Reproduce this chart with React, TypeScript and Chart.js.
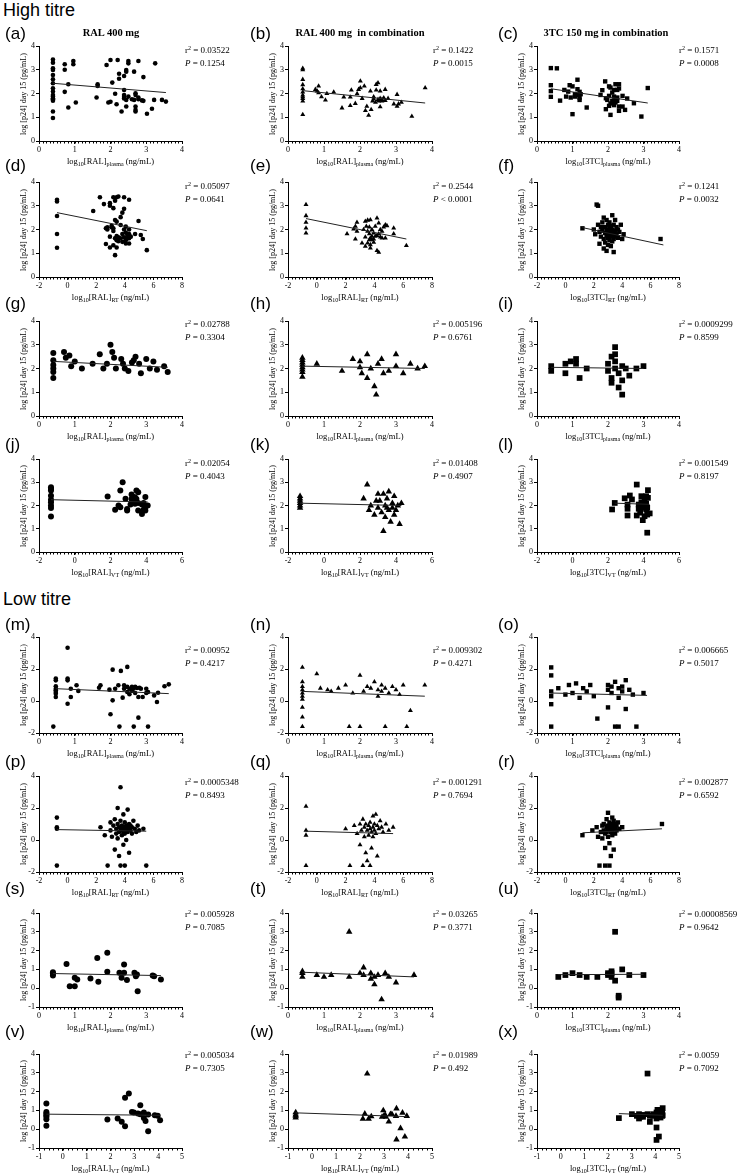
import React, { useEffect, useRef } from "react";
import { Chart, registerables } from "chart.js";
Chart.register(...registerables);

type P = [number, number];

// ---------- DATA ----------
const ptsA: P[] = [[0.39,3.43],[0.39,3.3],[0.39,3.06],[0.39,2.99],[0.39,2.78],[0.39,2.6],[0.39,2.43],[0.39,2.22],[0.39,2.08],[0.39,1.94],[0.39,1.87],[0.39,1.8],[0.39,1.76],[0.39,1.7],[0.39,1.24],[0.39,0.97],
[0.72,3.23],[0.72,3.0],[0.72,2.07],[0.82,2.39],[0.82,1.41],[0.96,3.37],[0.96,3.23],[1.03,1.62],[1.61,1.83],[1.64,2.39],[1.64,2.32],[1.89,3.2],[1.94,1.62],[2.0,3.41],[2.0,1.65],[2.05,2.46],[2.13,1.99],[2.17,1.55],[2.2,3.41],[2.24,2.83],[2.24,2.62],[2.31,1.24],[2.38,2.74],[2.38,2.15],[2.38,1.94],[2.38,1.85],[2.38,1.79],[2.44,2.92],[2.44,2.99],[2.44,1.73],[2.44,1.45],[2.5,3.37],[2.5,3.27],[2.5,1.87],[2.6,1.76],[2.66,2.92],[2.66,1.73],[2.7,2.01],[2.7,1.94],[2.7,1.45],[2.7,1.31],[2.7,1.24],[2.78,3.37],[2.78,1.83],[2.78,1.76],[2.88,1.71],[2.92,2.69],[2.92,1.69],[3.02,1.15],[3.16,1.36],[3.22,1.73],[3.25,3.27],[3.44,1.73],[3.55,1.66]];
const fitA: P[] = [[0.39,2.43],[3.55,2.04]];

const ptsB: P[] = [[0.41,3.06],[0.41,3.0],[0.41,2.59],[0.41,2.37],[0.41,2.2],[0.41,2.06],[0.41,1.93],[0.41,1.86],[0.41,1.79],[0.41,1.68],[0.41,1.11],
[0.76,2.17],[0.81,2.1],[0.85,2.31],[0.85,2.03],[0.93,1.86],[1.04,1.72],[1.08,2.0],[1.27,2.06],[1.5,1.39],[1.55,1.85],[1.73,1.85],[1.73,1.49],[1.76,2.14],[1.87,1.58],[1.92,1.99],[1.96,2.17],[2.01,2.52],[2.01,2.24],[2.06,1.79],[2.12,2.31],[2.15,1.28],[2.19,1.46],[2.24,1.08],[2.29,2.1],[2.31,1.32],[2.35,1.68],[2.38,1.86],[2.38,1.77],[2.43,1.63],[2.45,2.38],[2.45,2.14],[2.5,2.45],[2.5,1.75],[2.52,1.68],[2.56,2.1],[2.56,1.79],[2.56,1.44],[2.61,1.75],[2.61,1.68],[2.66,1.82],[2.7,2.17],[2.7,1.7],[2.78,1.79],[2.94,1.56],[3.03,1.96],[3.03,1.46],[3.07,1.56],[3.15,1.63],[3.44,1.04],[3.81,2.24]];
const fitB: P[] = [[0.41,2.12],[3.81,1.6]];

const ptsC: P[] = [[0.39,3.07],[0.39,2.35],[0.39,2.1],[0.39,1.86],[0.56,3.06],[0.65,1.7],[0.77,2.15],[0.82,1.87],[0.88,2.08],[0.92,2.35],[0.95,1.83],[1.0,1.13],[1.0,2.3],[1.07,1.97],[1.07,1.87],[1.14,2.18],[1.14,2.58],[1.14,1.93],[1.2,1.73],[1.2,1.83],[1.2,2.07],[1.23,1.97],[1.4,1.41],[1.79,1.94],[1.84,2.14],[1.92,2.51],[1.94,1.8],[1.94,1.34],[1.98,1.73],[2.03,2.3],[2.03,1.9],[2.03,1.48],[2.07,2.25],[2.07,1.1],[2.07,1.58],[2.12,2.04],[2.12,1.69],[2.17,2.15],[2.17,1.87],[2.17,1.51],[2.21,2.39],[2.21,1.76],[2.21,1.62],[2.26,2.15],[2.26,1.83],[2.26,1.69],[2.31,2.21],[2.31,2.39],[2.31,1.27],[2.31,1.45],[2.41,1.9],[2.41,1.45],[2.48,1.31],[2.54,1.79],[2.73,1.59],[2.94,1.03],[3.12,2.23]];
const fitC: P[] = [[0.39,2.2],[3.12,1.6]];

const ptsD: P[] = [[-0.74,3.25],[-0.74,3.18],[-0.74,2.57],[-0.74,1.81],[-0.74,1.23],[1.79,2.78],[2.26,3.36],[2.54,3.07],[2.68,2.05],[2.68,1.39],[2.78,2.0],[2.78,2.09],[2.96,3.11],[2.96,3.0],[2.96,1.7],[2.96,1.24],[3.08,2.16],[3.08,2.09],[3.2,3.36],[3.2,2.9],[3.2,2.05],[3.2,1.94],[3.2,1.34],[3.32,3.21],[3.32,2.4],[3.32,0.92],[3.32,1.63],[3.43,3.36],[3.43,2.33],[3.43,1.72],[3.43,1.55],[3.43,1.24],[3.55,3.39],[3.55,1.67],[3.55,1.51],[3.71,2.52],[3.71,1.63],[3.71,2.19],[3.83,2.71],[3.83,1.81],[3.83,1.48],[3.95,3.36],[3.95,2.87],[3.95,2.0],[3.95,1.67],[4.07,2.12],[4.07,1.87],[4.07,1.55],[4.07,1.41],[4.18,1.77],[4.18,1.63],[4.3,3.25],[4.3,2.0],[4.3,1.81],[4.3,1.63],[4.3,1.41],[4.42,1.7],[4.72,1.81],[4.96,2.36],[5.12,1.77],[5.26,1.6],[5.54,1.13]];
const fitD: P[] = [[-0.74,2.71],[5.54,1.95]];

const ptsE: P[] = [[-0.75,3.05],[-0.75,2.58],[-0.75,2.3],[-0.75,2.06],[-0.75,1.85],[2.1,1.82],[2.56,2.02],[2.68,2.13],[2.68,1.6],[2.79,2.3],[2.79,1.92],[3.14,1.43],[3.25,2.0],[3.37,2.34],[3.37,1.68],[3.37,1.29],[3.44,2.13],[3.53,2.39],[3.53,1.92],[3.53,1.43],[3.65,2.1],[3.65,1.82],[3.65,1.57],[3.72,2.41],[3.72,1.64],[3.72,1.36],[3.72,1.22],[3.83,2.0],[3.83,1.71],[3.83,1.57],[3.95,1.85],[3.95,1.6],[3.95,1.46],[4.06,2.13],[4.06,1.71],[4.18,2.48],[4.18,1.75],[4.18,1.11],[4.3,2.27],[4.3,1.82],[4.3,1.04],[4.41,2.0],[4.41,1.68],[4.53,1.64],[4.53,1.92],[4.64,2.1],[4.76,2.2],[4.76,1.64],[4.87,2.16],[5.34,2.06],[5.34,1.82],[6.22,1.32]];
const fitE: P[] = [[-0.75,2.46],[6.22,1.6]];

const ptsF: P[] = [[1.2,2.05],[2.0,2.0],[2.1,1.8],[2.2,3.05],[2.3,3.0],[2.3,2.2],[2.4,1.9],[2.4,1.4],[2.5,2.1],[2.5,1.7],[2.6,2.3],[2.6,1.95],[2.7,2.5],[2.7,1.6],[2.7,1.2],[2.8,2.1],[2.8,1.85],[2.8,1.45],[2.9,2.4],[2.9,2.0],[2.9,1.75],[2.9,1.1],[3.0,2.2],[3.0,1.9],[3.0,1.65],[3.0,1.35],[3.1,2.3],[3.1,2.05],[3.1,1.8],[3.1,1.55],[3.2,2.15],[3.2,1.9],[3.2,1.7],[3.2,1.3],[3.3,2.6],[3.3,2.0],[3.3,1.75],[3.3,1.5],[3.4,2.2],[3.4,1.85],[3.4,1.6],[3.4,1.05],[3.5,2.4],[3.5,1.95],[3.5,1.7],[3.6,2.1],[3.6,1.8],[3.7,2.0],[3.7,1.65],[3.8,1.9],[3.9,2.2],[4.0,1.6],[4.1,1.8],[6.7,1.6]];
const fitF: P[] = [[1.2,2.08],[6.9,1.35]];

const ptsG: P[] = [[0.4,2.65],[0.4,2.35],[0.4,2.15],[0.4,2.0],[0.4,1.85],[0.4,1.6],[0.7,2.7],[0.75,2.45],[0.85,2.55],[0.9,2.1],[1.0,2.3],[1.2,2.0],[1.5,2.2],[1.7,2.6],[1.8,2.0],[1.9,2.2],[2.0,3.0],[2.05,2.7],[2.1,2.45],[2.15,2.0],[2.3,2.4],[2.35,2.2],[2.4,2.0],[2.5,1.9],[2.6,2.25],[2.65,2.35],[2.7,2.5],[2.8,2.2],[2.85,1.8],[3.0,2.4],[3.1,2.0],[3.2,2.3],[3.3,1.95],[3.5,2.1],[3.6,1.85]];
const fitG: P[] = [[0.4,2.3],[3.6,2.05]];

const ptsH: P[] = [[0.4,2.45],[0.4,2.35],[0.4,2.25],[0.4,2.15],[0.4,2.05],[0.4,1.95],[0.4,1.85],[0.4,1.65],[0.8,2.2],[1.5,1.9],[1.8,2.4],[2.0,2.3],[2.0,2.05],[2.05,1.8],[2.2,2.6],[2.2,1.6],[2.3,2.0],[2.4,1.25],[2.45,0.9],[2.5,2.2],[2.6,2.4],[2.65,1.8],[2.8,1.9],[3.0,2.1],[3.0,2.6],[3.2,1.8],[3.4,2.2],[3.6,2.0],[3.8,2.1]];
const fitH: P[] = [[0.4,2.1],[3.8,2.0]];

const ptsI: P[] = [[0.4,2.1],[0.4,1.9],[0.8,2.2],[0.8,1.8],[0.95,2.3],[1.1,2.2],[1.1,2.4],[1.2,1.6],[1.4,2.0],[2.0,2.2],[2.0,1.9],[2.1,2.5],[2.1,1.6],[2.1,1.4],[2.2,2.9],[2.2,2.6],[2.2,2.3],[2.2,2.0],[2.3,1.8],[2.3,1.2],[2.4,2.1],[2.4,0.9],[2.4,1.5],[2.5,2.0],[2.6,1.7],[2.8,2.0],[3.0,2.1]];
const fitI: P[] = [[0.4,2.05],[3.0,2.0]];

const ptsJ: P[] = [[-1.33,2.78],[-1.33,2.71],[-1.33,2.64],[-1.33,2.42],[-1.33,2.25],[-1.33,2.14],[-1.33,2.0],[-1.33,1.89],[-1.33,1.53],[1.84,2.39],[2.26,1.82],[2.45,2.0],[2.55,2.65],[2.55,1.92],[2.68,3.0],[2.84,2.29],[2.93,1.85],[2.93,1.78],[3.12,2.04],[3.18,2.47],[3.18,2.28],[3.28,2.18],[3.28,2.37],[3.37,2.35],[3.37,2.08],[3.45,2.65],[3.45,2.28],[3.55,2.57],[3.55,1.79],[3.55,2.11],[3.76,1.63],[3.76,2.04],[3.85,1.82],[3.85,2.11],[3.95,2.37],[3.95,1.94],[3.95,1.79],[4.08,2.0]];
const fitJ: P[] = [[-1.33,2.25],[4.08,2.15]];

const ptsK: P[] = [[-1.33,2.4],[-1.33,2.3],[-1.33,2.2],[-1.33,2.1],[-1.33,2.0],[-1.33,1.9],[2.2,2.3],[2.4,2.9],[2.5,1.8],[2.6,2.0],[2.8,1.6],[2.9,2.2],[3.0,2.5],[3.0,1.9],[3.1,2.2],[3.2,1.7],[3.3,2.5],[3.3,0.9],[3.4,2.0],[3.4,1.5],[3.5,2.3],[3.5,1.9],[3.6,2.6],[3.6,1.8],[3.7,1.3],[3.8,2.1],[3.8,1.9],[3.9,2.4],[3.9,1.6],[4.0,1.8],[4.1,2.0],[4.2,1.2],[4.3,2.1]];
const fitK: P[] = [[-1.33,2.1],[4.3,2.0]];

const ptsL: P[] = [[2.23,1.83],[2.38,2.11],[2.94,2.31],[3.1,2.04],[3.1,1.86],[3.1,1.57],[3.23,2.43],[3.35,2.26],[3.62,2.9],[3.62,1.57],[3.73,2.04],[3.73,1.86],[3.81,1.69],[3.81,1.94],[3.88,2.4],[3.88,2.14],[3.88,1.9],[3.96,1.37],[3.96,2.04],[4.06,2.26],[4.06,1.94],[4.06,1.54],[4.15,2.4],[4.15,2.09],[4.15,1.83],[4.21,0.83],[4.21,1.9],[4.21,1.61],[4.25,2.66],[4.25,2.33],[4.35,1.66]];
const fitL: P[] = [[2.38,2.1],[4.35,2.05]];

const ptsM: P[] = [[0.47,1.4],[0.47,1.29],[0.47,0.92],[0.47,0.77],[0.47,0.67],[0.47,0.56],[0.47,0.46],[0.47,0.25],[0.4,-1.6],[0.8,3.33],[0.8,1.4],[0.8,1.29],[0.8,-0.17],[0.89,0.77],[0.89,0.25],[1.05,0.98],[1.1,0.63],[1.68,0.83],[1.72,0.98],[1.97,0.71],[2.06,1.96],[2.06,0.04],[2.0,-0.83],[2.13,0.77],[2.22,0.98],[2.25,-1.6],[2.29,1.88],[2.34,0.21],[2.38,0.98],[2.38,0.77],[2.47,2.13],[2.47,0.88],[2.47,0.56],[2.53,0.77],[2.53,0.42],[2.6,0.88],[2.6,0.63],[2.64,0.77],[2.65,-1.6],[2.69,0.88],[2.69,0.5],[2.74,0.81],[2.78,0.25],[2.78,-1.04],[2.81,0.83],[2.85,0.77],[2.9,0.25],[3.0,0.77],[3.0,0.5],[3.05,0.56],[3.05,-1.6],[3.22,0.35],[3.3,-0.06],[3.33,0.52],[3.51,0.92],[3.63,1.04]];
const fitM: P[] = [[0.47,0.77],[3.63,0.46]];

const ptsN: P[] = [[0.4,2.1],[0.4,1.2],[0.4,0.9],[0.4,0.7],[0.4,0.5],[0.4,0.3],[0.4,0.1],[0.4,-0.4],[0.4,-1.0],[0.4,-1.6],[0.8,1.7],[0.9,0.8],[1.1,0.7],[1.2,0.6],[1.4,0.8],[1.6,1.0],[1.7,-1.6],[1.8,0.5],[2.0,1.6],[2.0,-1.6],[2.1,0.6],[2.2,0.9],[2.3,0.8],[2.4,1.2],[2.5,0.7],[2.5,0.3],[2.6,1.0],[2.6,0.6],[2.7,0.8],[2.7,-1.6],[2.8,0.5],[2.9,0.9],[3.0,0.7],[3.1,0.4],[3.2,1.0],[3.3,-1.6],[3.4,-0.6],[3.8,1.0]];
const fitN: P[] = [[0.4,0.6],[3.8,0.3]];

const ptsO: P[] = [[0.4,2.1],[0.4,1.6],[0.4,0.6],[0.4,0.3],[0.4,-0.2],[0.4,-1.6],[0.6,0.8],[0.8,0.4],[0.9,1.0],[1.0,0.5],[1.1,1.1],[1.2,0.2],[1.3,0.8],[1.4,0.6],[1.5,1.0],[1.6,0.3],[1.7,-1.1],[2.0,0.7],[2.0,1.0],[2.0,-0.4],[2.1,0.5],[2.1,0.9],[2.2,1.2],[2.2,-1.6],[2.3,0.8],[2.3,0.2],[2.3,-1.6],[2.4,0.9],[2.4,0.6],[2.5,1.3],[2.5,-0.5],[2.6,0.7],[2.7,0.4],[2.8,-1.6],[3.0,0.5]];
const fitO: P[] = [[0.4,0.5],[3.1,0.35]];

const ptsP: P[] = [[-0.75,1.4],[-0.75,0.8],[-0.75,0.7],[-0.75,-1.6],[2.3,0.8],[2.6,0.3],[2.8,-1.6],[3.0,1.1],[3.0,0.6],[3.1,0.2],[3.2,0.9],[3.3,1.3],[3.3,-0.6],[3.4,0.7],[3.4,0.4],[3.5,2.0],[3.5,1.0],[3.5,0.1],[3.6,0.8],[3.6,0.5],[3.6,-1.0],[3.7,3.3],[3.7,1.2],[3.7,0.6],[3.7,-1.6],[3.8,0.9],[3.8,0.7],[3.8,0.3],[3.9,1.6],[3.9,0.8],[3.9,0.5],[3.9,-0.3],[4.0,1.1],[4.0,0.7],[4.0,0.4],[4.0,-1.6],[4.1,0.9],[4.1,0.6],[4.1,0.0],[4.2,1.9],[4.2,0.8],[4.2,0.5],[4.3,1.0],[4.3,0.7],[4.3,-0.8],[4.4,0.9],[4.4,0.6],[4.5,0.8],[4.5,0.4],[4.6,1.2],[4.7,0.7],[4.8,0.5],[4.9,0.9],[5.0,0.6],[5.3,0.7],[5.5,-1.6]];
const fitP: P[] = [[-0.75,0.65],[5.5,0.55]];

const ptsQ: P[] = [[-0.75,2.1],[-0.75,0.6],[-0.75,0.3],[-0.75,-1.6],[2.0,0.7],[2.3,-1.6],[2.6,0.9],[2.8,0.4],[3.0,1.0],[3.0,-0.3],[3.1,0.6],[3.2,1.3],[3.2,-1.6],[3.3,0.8],[3.3,0.2],[3.4,1.0],[3.4,-0.8],[3.5,0.6],[3.5,-1.3],[3.6,0.9],[3.6,0.3],[3.7,1.1],[3.7,0.7],[3.7,-1.6],[3.8,0.5],[3.8,-0.5],[3.9,1.5],[3.9,0.8],[3.9,0.2],[4.0,1.0],[4.0,0.6],[4.1,1.6],[4.1,0.4],[4.2,0.9],[4.2,-1.0],[4.3,0.7],[4.4,1.2],[4.5,0.8],[4.6,0.5],[4.8,1.0],[5.0,0.6],[5.3,0.8]];
const fitQ: P[] = [[-0.75,0.55],[5.3,0.4]];

const ptsR: P[] = [[1.2,0.3],[1.9,0.6],[2.2,0.8],[2.3,0.2],[2.4,-1.6],[2.5,0.5],[2.6,0.9],[2.6,0.1],[2.7,1.0],[2.7,0.6],[2.8,0.4],[2.8,-0.5],[2.8,-1.6],[2.9,1.3],[2.9,0.8],[2.9,0.5],[3.0,1.7],[3.0,0.9],[3.0,0.6],[3.0,0.2],[3.1,1.1],[3.1,0.7],[3.1,-0.2],[3.1,-1.6],[3.2,1.0],[3.2,0.8],[3.2,0.5],[3.2,-1.0],[3.3,1.4],[3.3,0.9],[3.3,0.6],[3.3,0.3],[3.4,1.2],[3.4,0.7],[3.4,-0.6],[3.5,1.0],[3.5,0.8],[3.5,0.4],[3.6,0.9],[3.6,0.6],[3.7,1.1],[3.8,0.7],[4.0,0.8],[6.8,1.0]];
const fitR: P[] = [[1.2,0.45],[6.8,0.7]];

const ptsS: P[] = [[0.39,0.85],[0.39,0.78],[0.39,0.67],[0.77,1.29],[0.86,0.11],[1.0,0.55],[1.0,0.11],[1.07,0.46],[1.44,0.51],[1.63,1.61],[1.66,0.34],[1.91,1.88],[1.91,0.87],[2.25,0.82],[2.31,0.55],[2.38,1.26],[2.38,0.82],[2.46,0.43],[2.67,0.82],[2.71,0.64],[2.74,0.73],[2.76,-0.16],[3.18,0.67],[3.22,0.64],[3.41,0.46]];
const fitS: P[] = [[0.39,0.78],[3.41,0.67]];

const ptsT: P[] = [[0.4,0.9],[0.4,0.8],[0.4,0.6],[0.8,0.7],[1.0,0.6],[1.2,0.7],[1.7,3.0],[1.7,0.6],[2.0,0.8],[2.1,1.1],[2.1,0.7],[2.3,0.5],[2.3,0.8],[2.4,0.6],[2.4,0.2],[2.5,0.7],[2.6,-0.6],[2.7,0.8],[2.8,0.6],[3.0,0.3],[3.5,0.7]];
const fitT: P[] = [[0.4,0.85],[3.5,0.6]];

const ptsU: P[] = [[0.6,0.6],[0.8,0.7],[1.0,0.8],[1.2,0.7],[1.4,0.6],[1.7,0.6],[2.0,0.7],[2.0,0.8],[2.1,0.9],[2.1,0.8],[2.1,0.6],[2.2,3.0],[2.2,0.4],[2.3,-0.4],[2.3,-0.5],[2.4,1.0],[2.6,0.7],[3.0,0.7]];
const fitU: P[] = [[0.6,0.72],[3.0,0.74]];

const ptsV: P[] = [[-0.69,1.37],[-0.69,0.92],[-0.69,0.83],[-0.69,0.74],[-0.69,0.66],[-0.69,0.53],[-0.69,0.18],[1.87,0.51],[2.3,0.57],[2.47,0.39],[2.61,1.67],[2.61,0.16],[2.77,1.9],[2.9,0.92],[2.98,0.89],[3.15,0.83],[3.25,1.28],[3.25,0.8],[3.4,0.89],[3.4,0.6],[3.47,0.43],[3.58,0.78],[3.58,-0.11],[3.86,0.74],[3.98,0.71],[4.08,0.48]];
const fitV: P[] = [[-0.69,0.8],[4.08,0.74]];

const ptsW: P[] = [[-0.68,0.89],[-0.68,0.78],[-0.68,0.71],[-0.68,0.62],[2.12,0.55],[2.2,0.82],[2.3,2.95],[2.36,0.55],[2.47,0.68],[2.92,0.65],[2.97,1.0],[3.0,0.72],[3.05,0.75],[3.08,0.65],[3.2,0.4],[3.27,0.8],[3.33,0.8],[3.5,0.7],[3.52,1.1],[3.52,-0.55],[3.69,0.05],[3.77,0.87],[3.87,-0.4],[3.95,0.7]];
const fitW: P[] = [[-0.68,0.87],[3.95,0.67]];

const ptsX: P[] = [[2.46,0.59],[3.01,0.8],[3.22,0.71],[3.31,0.57],[3.31,0.8],[3.37,0.67],[3.48,0.66],[3.48,0.76],[3.67,2.96],[3.67,0.8],[3.77,0.71],[3.77,0.39],[3.91,0.71],[3.91,0.8],[4.05,0.89],[4.05,0.57],[4.05,0.09],[4.05,-0.57],[4.09,1.03],[4.09,0.71],[4.15,-0.39],[4.15,0.76],[4.22,0.62],[4.22,0.85],[4.22,0.98],[4.31,1.12],[4.31,0.74],[4.29,0.89],[4.29,0.71]];
const fitX: P[] = [[2.46,0.83],[4.31,0.74]];

const R2 = ["0.03522","0.1422","0.1571","0.05097","0.2544","0.1241","0.02788","0.005196","0.0009299","0.02054","0.01408","0.001549","0.00952","0.009302","0.006665","0.0005348","0.001291","0.002877","0.005928","0.03265","0.00008569","0.005034","0.01989","0.0059"];
const PVAL = ["= 0.1254","= 0.0015","= 0.0008","= 0.0641","< 0.0001","= 0.0032","= 0.3304","= 0.6761","= 0.8599","= 0.4043","= 0.4907","= 0.8197","= 0.4217","= 0.4271","= 0.5017","= 0.8493","= 0.7694","= 0.6592","= 0.7085","= 0.3771","= 0.9642","= 0.7305","= 0.492","= 0.7092"];
const LETTERS = "abcdefghijklmnopqrstuvwx".split("");
const ALL_PTS = [ptsA,ptsB,ptsC,ptsD,ptsE,ptsF,ptsG,ptsH,ptsI,ptsJ,ptsK,ptsL,ptsM,ptsN,ptsO,ptsP,ptsQ,ptsR,ptsS,ptsT,ptsU,ptsV,ptsW,ptsX];
const ALL_FITS = [fitA,fitB,fitC,fitD,fitE,fitF,fitG,fitH,fitI,fitJ,fitK,fitL,fitM,fitN,fitO,fitP,fitQ,fitR,fitS,fitT,fitU,fitV,fitW,fitX];

const TITLES = ["RAL 400 mg", "RAL 400 mg\u00a0 in combination", "3TC 150 mg in combination"];
const DRUGS = ["RAL", "RAL", "3TC"];

// axis tick values
const X_TICKS: Record<string, number[]> = {
  plasma: [0, 1, 2, 3, 4],
  rt: [-2, 0, 2, 4, 6, 8],
  vth: [-2, 0, 2, 4, 6],
  vtl: [-1, 0, 1, 2, 3, 4, 5],
};
const X_MINOR: Record<string, number> = { plasma: 0.1, rt: 0.25, vth: 0.2, vtl: 0.2 };
const Y_TICKS: Record<string, number[]> = {
  hi: [0, 1, 2, 3, 4],
  lowA: [-2, 0, 2, 4],
  lowB: [-1, 0, 1, 2, 3, 4],
};
const ROW_X = ["plasma", "rt", "plasma", "vth", "plasma", "rt", "plasma", "vtl"];
const ROW_Y = ["hi", "hi", "hi", "hi", "lowA", "lowA", "lowB", "lowB"];
const ROW_SUB = ["plasma", "RT", "plasma", "VT", "plasma", "RT", "plasma", "VT"];

// ---------- LAYOUT ----------
const COL_L = [39, 288, 537];
const COL_R = [182, 432, 679];
const ROW_T = [46, 182, 321, 459, 637, 776, 913, 1054];
const ROW_B = [141, 277, 416, 552, 733, 872, 1007, 1148];
const LABEL_X = [5, 250, 498];
const LABEL_Y = [34, 166, 304, 445, 625, 762, 889, 1032];
const STAT_X = [185, 433, 679];
const STAT_Y = [50, 186, 324, 463, 650, 782, 914, 1055];
const TITLE_CX = [111, 360, 606];
const ROW_RADIUS = [2.3, 2.3, 3, 3, 2.3, 2.3, 3, 3];
const SHAPES = ["circle", "triangle", "rect"];
const SHAPE_SCALE = [1, 1.25, 1.35];

const SERIF = '"Liberation Serif", "Times New Roman", serif';
const SANS = '"Liberation Sans", Arial, sans-serif';

const minorTicks = {
  id: "minorTicks",
  afterDraw(chart: any, _args: any, opts: any) {
    const { ctx } = chart;
    const x = chart.scales.x;
    const y = chart.scales.y;
    const step = opts.step as number;
    const n = Math.round((x.max - x.min) / step);
    ctx.save();
    ctx.strokeStyle = "#000";
    ctx.lineWidth = 1;
    ctx.beginPath();
    const yb = Math.round(y.bottom) + 0.5;
    for (let i = 0; i <= n; i++) {
      const v = x.min + i * step;
      const px = Math.round(x.getPixelForValue(v)) + 0.5;
      ctx.moveTo(px, yb);
      ctx.lineTo(px, yb + 2);
    }
    ctx.stroke();
    ctx.restore();
  },
};

const PADL = 20, PADT = 6, PADR = 6, PADB = 16;

function Panel({ idx }: { idx: number }) {
  const ref = useRef<HTMLCanvasElement>(null);
  const row = Math.floor(idx / 3);
  const col = idx % 3;
  const PL = COL_L[col], PR = COL_R[col], T = ROW_T[row], B = ROW_B[row];
  const cw = PR - PL + PADL + PADR;
  const ch = B - T + PADT + PADB;

  useEffect(() => {
    const xt = X_TICKS[ROW_X[row]];
    const yt = Y_TICKS[ROW_Y[row]];
    const tickFont = { family: SERIF, size: 8 };
    const chart = new Chart(ref.current as HTMLCanvasElement, {
      type: "scatter",
      data: {
        datasets: [
          {
            data: ALL_PTS[idx].map(([x, y]) => ({ x, y })),
            pointStyle: SHAPES[col] as any,
            pointRadius: ROW_RADIUS[row] * SHAPE_SCALE[col],
            backgroundColor: "#000",
            borderColor: "#000",
            borderWidth: 0,
            order: 2,
          },
          {
            data: ALL_FITS[idx].map(([x, y]) => ({ x, y })),
            showLine: true,
            pointRadius: 0,
            borderColor: "#222",
            borderWidth: 1,
            order: 1,
          },
        ],
      },
      options: {
        responsive: false,
        animation: false,
        devicePixelRatio: 1,
        layout: { autoPadding: false, padding: { top: PADT, right: PADR, left: 0, bottom: 0 } },
        plugins: {
          legend: { display: false },
          tooltip: { enabled: false },
          minorTicks: { step: X_MINOR[ROW_X[row]] },
        } as any,
        scales: {
          x: {
            type: "linear",
            min: xt[0],
            max: xt[xt.length - 1],
            afterBuildTicks: (s: any) => { s.ticks = xt.map((v) => ({ value: v })); },
            afterFit: (s: any) => { s.height = PADB; },
            ticks: { font: tickFont, color: "#000", padding: 1, maxRotation: 0, autoSkip: false },
            grid: { display: true, drawOnChartArea: false, drawTicks: true, tickLength: 3, color: "#000", lineWidth: 1 },
            border: { display: true, color: "#000", width: 1 },
          },
          y: {
            type: "linear",
            min: yt[0],
            max: yt[yt.length - 1],
            afterBuildTicks: (s: any) => { s.ticks = yt.map((v) => ({ value: v })); },
            afterFit: (s: any) => { s.width = PADL; },
            ticks: { font: tickFont, color: "#000", padding: 1, autoSkip: false },
            grid: { display: true, drawOnChartArea: false, drawTicks: true, tickLength: 3, color: "#000", lineWidth: 1 },
            border: { display: true, color: "#000", width: 1 },
          },
        },
      } as any,
      plugins: [minorTicks],
    });
    return () => chart.destroy();
  }, []);

  const sub = (t: string) => (
    <span style={{ fontSize: 6, position: "relative", top: 2 }}>{t}</span>
  );
  const cx = (PL + PR) / 2;

  return (
    <>
      <canvas
        ref={ref}
        width={cw}
        height={ch}
        style={{ position: "absolute", left: PL - PADL, top: T - PADT, width: cw, height: ch }}
      />
      <div style={{ position: "absolute", left: LABEL_X[col], top: LABEL_Y[row] - 10, fontFamily: SANS, fontSize: 17, lineHeight: "20px", whiteSpace: "nowrap" }}>
        ({LETTERS[idx]})
      </div>
      {row === 0 && (
        <div style={{ position: "absolute", left: TITLE_CX[col] - 100, width: 200, top: 27, textAlign: "center", fontFamily: SERIF, fontWeight: "bold", fontSize: 10.5, lineHeight: "12px", whiteSpace: "nowrap" }}>
          {TITLES[col]}
        </div>
      )}
      <div style={{ position: "absolute", left: STAT_X[col], top: STAT_Y[row] - 6, fontFamily: SERIF, fontSize: 9, lineHeight: "12px", whiteSpace: "nowrap" }}>
        r<span style={{ fontSize: 6, position: "relative", top: -3 }}>2</span> = {R2[idx]}
      </div>
      <div style={{ position: "absolute", left: STAT_X[col], top: STAT_Y[row] + 7, fontFamily: SERIF, fontSize: 9, lineHeight: "12px", whiteSpace: "nowrap" }}>
        <i>P</i> {PVAL[idx]}
      </div>
      <div style={{ position: "absolute", left: cx - 80, width: 160, top: B + 15, textAlign: "center", fontFamily: SERIF, fontSize: 8.5, lineHeight: "11px", whiteSpace: "nowrap" }}>
        log{sub("10")}[{DRUGS[col]}]{sub(ROW_SUB[row])} (ng/mL)
      </div>
      <div style={{ position: "absolute", left: PL - 15 - 60, width: 120, top: (T + B) / 2 - 5, height: 10, textAlign: "center", transform: "rotate(-90deg)", transformOrigin: "50% 50%", fontFamily: SERIF, fontSize: 8, lineHeight: "10px", whiteSpace: "nowrap" }}>
        log [p24] day 15 (pg/mL)
      </div>
    </>
  );
}

export default function App() {
  return (
    <div style={{ position: "absolute", left: 0, top: 0, width: 737, height: 1175, background: "#fff", color: "#000", overflow: "hidden" }}>
      <div style={{ position: "absolute", left: 3, top: 0, fontFamily: SANS, fontSize: 18, lineHeight: "20px" }}>High titre</div>
      <div style={{ position: "absolute", left: 3, top: 589, fontFamily: SANS, fontSize: 18, lineHeight: "20px" }}>Low titre</div>
      {LETTERS.map((_, i) => (
        <Panel key={i} idx={i} />
      ))}
    </div>
  );
}
